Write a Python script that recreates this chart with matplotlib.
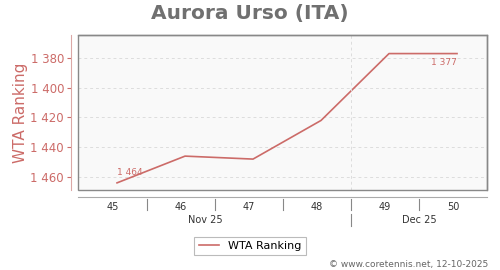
import matplotlib
matplotlib.use("Agg")
import matplotlib.pyplot as plt
from matplotlib.patches import Rectangle
from matplotlib.ticker import FuncFormatter

# Data
weeks = [45, 46, 47, 48, 49, 50]
ranking = [1464, 1446, 1448, 1422, 1377, 1377]
week_labels = ["45", "46", "47", "48", "49", "50"]
months = ["Nov 25", "Dec 25"]
title = "Aurora Urso (ITA)"
series_name = "WTA Ranking"
footer = "© www.coretennis.net, 12-10-2025"

RED = "#cc6b68"
GREY = "#888888"

W, H = 500, 270
fig = plt.figure(figsize=(W / 100, H / 100), dpi=100)
L, R, T, B = 78, 487, 35, 190
ax = fig.add_axes([L / W, 1 - B / H, (R - L) / W, (B - T) / H])
ax.set_facecolor("#f9f9f9")

ax.plot(weeks, ranking, color=RED, lw=1.2, label=series_name)
ax.set_xlim(44.426, 50.441)
ax.set_ylim(1468.8, 1364.5)

# y axis
ax.set_yticks([1380, 1400, 1420, 1440, 1460])
ax.yaxis.set_major_formatter(FuncFormatter(lambda v, p: f"{int(v):,}".replace(",", " ")))
ax.tick_params(axis="y", colors=RED, labelcolor=RED, labelsize=8.5, length=3, width=0.8, pad=2)
ax.set_ylabel(series_name, color=RED, fontsize=11)
ax.yaxis.set_label_coords((28 - L) / (R - L), 0.5)
ax.grid(axis="y", color="#dddddd", ls=(0, (3, 3)), lw=0.7)

# x axis
ax.set_xticks([w - 0.06 for w in weeks])
ax.set_xticklabels(week_labels)
ax.tick_params(axis="x", length=0, labelsize=7, labelcolor="#333333", pad=4)

for s in ["top", "right"]:
    ax.spines[s].set_color(GREY)
    ax.spines[s].set_linewidth(1)
ax.spines["left"].set_position(("outward", 5))
ax.spines["left"].set_color("#dba8a6")
ax.spines["bottom"].set_position(("outward", 5))
ax.spines["bottom"].set_color("#aaaaaa")
ax.add_patch(Rectangle((0, 0), 1, 1, transform=ax.transAxes, fill=False,
                       edgecolor=GREY, lw=1, clip_on=False, zorder=5))

# month boundary gridline
ax.axvline(48.44, color="#dddddd", ls=(0, (3, 3)), lw=0.7)

tr = ax.get_xaxis_transform()
ph = 1 / (B - T)
for w in weeks[:-1]:
    ax.plot([w + 0.44, w + 0.44], [-9 * ph, -20 * ph], transform=tr, color=GREY, lw=0.8, clip_on=False)
ax.plot([48.44, 48.44], [-24 * ph, -36 * ph], transform=tr, color=GREY, lw=0.8, clip_on=False)
month_x = [45 + (205 - 117) / 68, 45 + (419 - 117) / 68]
for mx, m in zip(month_x, months):
    ax.text(mx, -30 * ph, m, transform=tr, ha="center", va="center", fontsize=7, color="#333333")

# annotations
ax.annotate(f"{ranking[0]:,}".replace(",", " "), (weeks[0], ranking[0]), xytext=(0, 4),
            textcoords="offset points", ha="left", va="bottom", fontsize=6.5, color=RED)
ax.annotate(f"{ranking[-1]:,}".replace(",", " "), (weeks[-1], ranking[-1]), xytext=(0, -3),
            textcoords="offset points", ha="right", va="top", fontsize=6.5, color=RED)

fig.text(0.5, 1 - 13 / H, title, ha="center", va="center", fontsize=14.5, fontweight="bold", color="#707070")

leg = fig.legend(loc="center", bbox_to_anchor=(250 / W, 1 - 246 / H), fontsize=8, frameon=True,
                 fancybox=False, edgecolor="#aaaaaa", handlelength=1.8, borderpad=0.4)
leg.get_frame().set_linewidth(0.8)

fig.text(488 / W, 1 - 264 / H, footer, ha="right", va="center", fontsize=6.5, color="#666666")

fig.savefig("out.png", dpi=100)
